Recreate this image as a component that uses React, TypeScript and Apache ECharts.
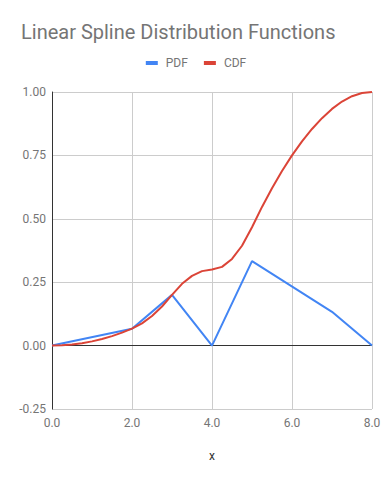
import React, { useEffect, useRef } from "react";
import * as echarts from "echarts";

const titleText = "Linear Spline Distribution Functions";
const pdfX = [0, 2, 3, 4, 5, 7, 8];
const pdfY = [0, 0.0667, 0.2, 0, 0.3333, 0.1333, 0];
const cdfX = [0, 0.25, 0.5, 0.75, 1, 1.25, 1.5, 1.75, 2, 2.25, 2.5, 2.75, 3, 3.25, 3.5, 3.75, 4, 4.25, 4.5, 4.75, 5, 5.25, 5.5, 5.75, 6, 6.25, 6.5, 6.75, 7, 7.25, 7.5, 7.75, 8];
const cdfY = [0, 0.001, 0.0042, 0.0094, 0.0167, 0.026, 0.0375, 0.051, 0.0667, 0.0875, 0.1167, 0.1542, 0.2, 0.2437, 0.275, 0.2937, 0.3, 0.3104, 0.3417, 0.3938, 0.4667, 0.5469, 0.6208, 0.6885, 0.75, 0.8052, 0.8542, 0.8969, 0.9333, 0.9625, 0.9833, 0.9958, 1.0];

const FONT = "Roboto";
const GRAY = "#757575";

export default function App() {
  const ref = useRef<HTMLDivElement>(null);
  useEffect(() => {
    const chart = echarts.init(ref.current!, null, { renderer: "svg" });
    chart.setOption({
      animation: false,
      backgroundColor: "#ffffff",
      title: {
        text: titleText,
        left: 16,
        top: 17,
        textStyle: { fontFamily: FONT, fontSize: 20, fontWeight: "normal", color: GRAY },
      },
      legend: {
        top: 52,
        left: "center",
        icon: "rect",
        itemWidth: 12,
        itemHeight: 4,
        itemGap: 16,
        textStyle: { fontFamily: FONT, fontSize: 12, color: GRAY, padding: [0, 0, 0, 3] },
        data: ["PDF", "CDF"],
      },
      grid: { left: 52, right: 20, top: 92, bottom: 74 },
      xAxis: {
        type: "value",
        min: 0,
        max: 8,
        interval: 2,
        name: "x",
        nameLocation: "middle",
        nameGap: 41,
        nameTextStyle: { fontFamily: FONT, fontSize: 12, color: "#333" },
        axisLine: { show: false },
        axisTick: { show: false },
        axisLabel: {
          fontFamily: FONT,
          fontSize: 12,
          color: GRAY,
          margin: 8,
          formatter: (v: number) => v.toFixed(1),
        },
        splitLine: { show: true, lineStyle: { color: "#cccccc", width: 1 } },
      },
      yAxis: {
        type: "value",
        min: -0.25,
        max: 1,
        interval: 0.25,
        axisLine: { show: true, onZero: false, lineStyle: { color: "#333333", width: 1 } },
        axisTick: { show: false },
        axisLabel: {
          fontFamily: FONT,
          fontSize: 12,
          color: GRAY,
          margin: 6,
          formatter: (v: number) => v.toFixed(2),
        },
        splitLine: { show: true, lineStyle: { color: "#cccccc", width: 1 } },
      },
      series: [
        {
          name: "PDF",
          type: "line",
          data: pdfX.map((x, i) => [x, pdfY[i]]),
          showSymbol: false,
          symbol: "none",
          lineStyle: { color: "#4285F4", width: 2 },
          itemStyle: { color: "#4285F4" },
          z: 3,
          markLine: {
            silent: true,
            symbol: "none",
            label: { show: false },
            lineStyle: { color: "#333333", width: 1, type: "solid" },
            data: [{ yAxis: 0 }],
            z: 1,
          },
        },
        {
          name: "CDF",
          type: "line",
          data: cdfX.map((x, i) => [x, cdfY[i]]),
          showSymbol: false,
          symbol: "none",
          lineStyle: { color: "#DB4437", width: 2 },
          itemStyle: { color: "#DB4437" },
          z: 4,
        },
      ],
    });
    return () => chart.dispose();
  }, []);
  return <div ref={ref} style={{ width: 392, height: 483, position: "absolute", left: 0, top: 0 }} />;
}
